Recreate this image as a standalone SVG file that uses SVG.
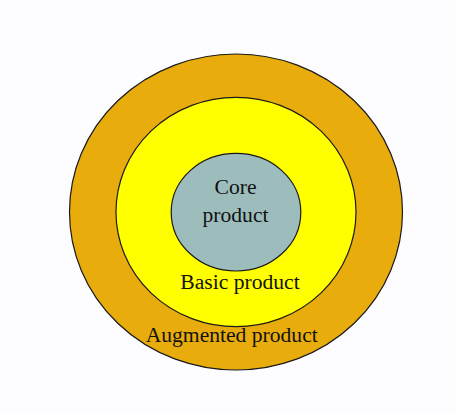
<svg xmlns="http://www.w3.org/2000/svg" width="455" height="414" viewBox="0 0 455 414">
<style>
.ring{stroke:#1a1a1a;stroke-width:1.2}
.t{font-family:"Liberation Serif","Times New Roman",serif;font-size:21.6px;fill:#111;text-anchor:middle}
</style>
<rect width="455" height="414" fill="#fdfcfe"/>
<g id="augmented">
<ellipse class="ring" cx="236" cy="212" rx="166.5" ry="158" fill="#e8ac0c"/>
<text class="t" x="231.7" y="342">Augmented product</text>
</g>
<g id="basic">
<ellipse class="ring" cx="236" cy="212" rx="120" ry="114.7" fill="#ffff00"/>
<text class="t" x="240" y="288.5">Basic product</text>
</g>
<g id="core">
<ellipse class="ring" cx="236" cy="212.2" rx="64.8" ry="58.8" fill="#9dbdbd"/>
<text class="t" x="235.5" y="194">Core</text>
<text class="t" x="235.5" y="221.7">product</text>
</g>
<g id="connectors"/>
</svg>
